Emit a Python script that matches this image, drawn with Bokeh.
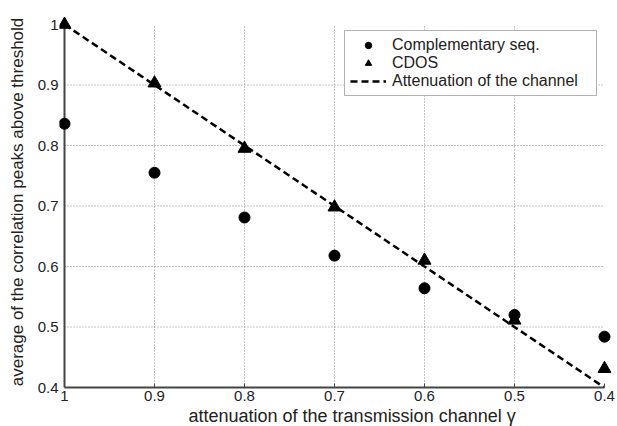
from bokeh.plotting import figure
from bokeh.models import Range1d, FixedTicker, CustomJSTickFormatter, Legend, LegendItem, ColumnDataSource, Title
from bokeh.embed import file_html
from bokeh.resources import INLINE

# data
gamma = [1.0, 0.9, 0.8, 0.7, 0.6, 0.5, 0.4]
complementary = [0.836, 0.755, 0.681, 0.618, 0.564, 0.520, 0.484]
cdos = [1.0, 0.903, 0.795, 0.698, 0.610, 0.511, 0.431]
atten_x = [1.0, 0.4]
atten_y = [1.0, 0.4]
x_ticks = [1.0, 0.9, 0.8, 0.7, 0.6, 0.5, 0.4]
y_ticks = [0.4, 0.5, 0.6, 0.7, 0.8, 0.9, 1.0]
x_title = "attenuation of the transmission channel γ"
y_title = "average of the correlation peaks above threshold"

FONT = "Liberation Sans"
TXT = "#222222"
AXC = "#444444"

x_lo, x_hi = min(x_ticks), max(x_ticks)
y_lo, y_hi = min(y_ticks), max(y_ticks)

# small padding beyond the axes so that edge markers are not clipped
padx_l = 5 / 900.0
padx_r = 7 / 900.0
pady = 8 / 605.0

p = figure(width=617, height=426, output_backend="svg", toolbar_location=None,
           x_range=Range1d(x_hi + padx_l, x_lo - padx_r), y_range=Range1d(y_lo, y_hi + pady),
           min_border_left=59, min_border_right=6, min_border_top=16, min_border_bottom=39)
p.outline_line_color = None
p.background_fill_color = "white"
p.border_fill_color = "white"
p.xgrid.visible = False
p.ygrid.visible = False

fmt = CustomJSTickFormatter(code="return tick.toFixed(1).replace(/\\.0$/, '');")
for ax, ticks in ((p.xaxis[0], x_ticks), (p.yaxis[0], y_ticks)):
    ax.ticker = FixedTicker(ticks=ticks)
    ax.formatter = fmt
    ax.minor_tick_line_color = None
    ax.major_label_text_font = FONT
    ax.major_label_text_font_size = "15px"
    ax.major_label_text_color = TXT
    ax.axis_label_text_font = FONT
    ax.axis_label_text_font_style = "normal"
    ax.axis_label_text_color = TXT

xa = p.xaxis[0]
xa.bounds = (x_lo, x_hi)
xa.axis_line_color = AXC
xa.axis_line_width = 2
xa.major_tick_in = 4
xa.major_tick_out = 0
xa.major_tick_line_color = AXC
xa.major_label_standoff = 3

ya = p.yaxis[0]
ya.axis_line_color = None
ya.major_tick_line_color = None
ya.major_tick_in = 0
ya.major_tick_out = 0
ya.major_label_standoff = 1
ya.axis_label = y_title
ya.axis_label_text_font_size = "17px"
ya.axis_label_standoff = 8

# x-axis title (sits a little right of centre, as in the original figure)
p.add_layout(Title(text=x_title, align="left", offset=129, standoff=0,
                   text_font=FONT, text_font_size="18px", text_font_style="normal",
                   text_color=TXT), "below")

# dotted grid inside the axes box
gx = [t for t in x_ticks if x_lo < t < x_hi]
gy = [t for t in y_ticks if y_lo < t < y_hi]
p.segment(x0=gx, y0=[y_lo] * len(gx), x1=gx, y1=[y_hi] * len(gx),
          line_color="#8a8a8a", line_width=1, line_dash="1 2")
p.segment(x0=[x_hi] * len(gy), y0=gy, x1=[x_lo] * len(gy), y1=gy,
          line_color="#8a8a8a", line_width=1, line_dash="1 2")
# left axis line at gamma = 1
p.segment(x0=[x_hi], y0=[y_lo], x1=[x_hi], y1=[y_hi], line_color=AXC, line_width=2)

src = ColumnDataSource(dict(g=gamma, c=complementary, d=cdos))
r_line = p.line(atten_x, atten_y, line_color="black", line_width=2.5, line_dash="7 4")
r_c = p.scatter("g", "c", source=src, marker="circle", size=11, fill_color="black", line_color="black")
r_d = p.scatter("g", "d", source=src, marker="triangle", size=13, fill_color="black", line_color="black")

legend = Legend(items=[
    LegendItem(label="Complementary seq.", renderers=[r_c]),
    LegendItem(label="CDOS", renderers=[r_d]),
    LegendItem(label="Attenuation of the channel", renderers=[r_line]),
], location="top_right")
legend.label_text_font = FONT
legend.label_text_font_size = "16px"
legend.label_text_color = TXT
legend.glyph_width = 36
legend.glyph_height = 16
legend.label_height = 16
legend.label_width = 199
legend.spacing = 0
legend.padding = 5
legend.margin = 14
legend.label_standoff = 6
legend.border_line_color = "#666666"
legend.border_line_width = 1
legend.background_fill_alpha = 1
p.add_layout(legend, "center")

open("out.html", "w").write(file_html(p, INLINE))
